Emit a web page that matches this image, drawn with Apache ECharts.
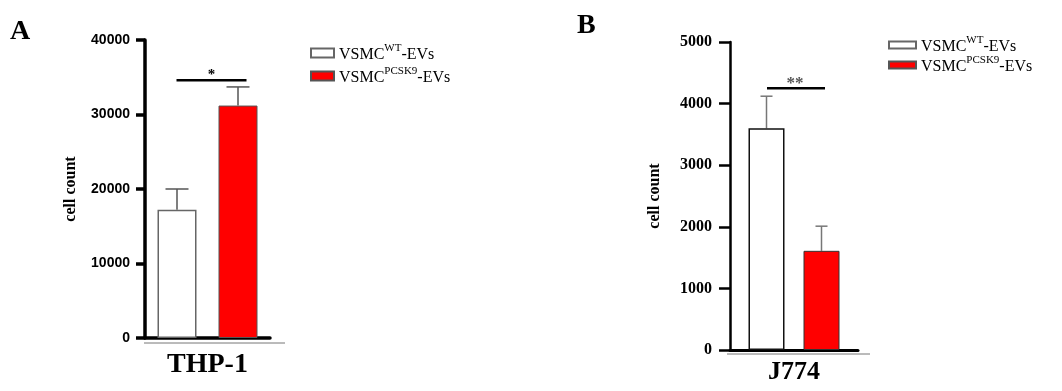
<!DOCTYPE html>
<html>
<head>
<meta charset="utf-8">
<script src="https://cdn.jsdelivr.net/npm/echarts@6/dist/echarts.min.js"></script>
<style>
html,body{margin:0;padding:0;background:#fff;}
#chart{width:1062px;height:391px;}
</style>
</head>
<body>
<div id="chart"></div>
<script>
// ---- data ----
const seriesNames = ['VSMC WT-EVs', 'VSMC PCSK9-EVs'];
const catA = ['THP-1'];
const catB = ['J774'];
const meanA = [17200, 31200];
const errA = [2800, 2500];
const meanB = [3600, 1610];
const errB = [520, 400];
const sigA = ['*', 34600];
const sigB = ['**', 4250];
const ticksA = { min: 0, max: 40000, interval: 10000 };
const ticksB = { min: 0, max: 5000, interval: 1000 };

// ---- styles ----
const serif = '"Liberation Serif", "Times New Roman", serif';
const sans = '"Liberation Sans", Arial, sans-serif';
const bwA = 39, gapA = 22, bwB = 36, gapB = 19;

const chart = echarts.init(document.getElementById('chart'), null, { renderer: 'canvas' });

function errRender(bw, gap, cap, color) {
  return function (params, api) {
    const k = api.value(3);
    const c = api.coord([api.value(0), api.value(1)]);
    const t = api.coord([api.value(0), api.value(1) + api.value(2)]);
    const x = c[0] + (k - 0.5) * (bw + gap);
    return {
      type: 'group',
      children: [
        { type: 'line', shape: { x1: x, y1: c[1], x2: x, y2: t[1] }, style: { stroke: color, lineWidth: 1.5 } },
        { type: 'line', shape: { x1: x - cap / 2, y1: t[1], x2: x + cap / 2, y2: t[1] }, style: { stroke: color, lineWidth: 1.5 } }
      ]
    };
  };
}
function sigRender(offL, offR, starOff, fs, dy, col) {
  return function (params, api) {
    const p = api.coord([api.value(0), api.value(1)]);
    return {
      type: 'group',
      children: [
        { type: 'line', shape: { x1: p[0] + offL, y1: p[1], x2: p[0] + offR, y2: p[1] }, style: { stroke: '#000', lineWidth: 2.5 } },
        { type: 'text', x: p[0] + starOff, y: p[1] - dy, style: { text: api.value(2), fill: col, font: 'bold ' + fs + 'px ' + serif, textAlign: 'center', textVerticalAlign: 'middle' } }
      ]
    };
  };
}

const legendRich = {
  n: { fontFamily: serif, fontSize: 16, color: '#000', lineHeight: 20, verticalAlign: 'bottom' },
  s: { fontFamily: serif, fontSize: 11, color: '#000', lineHeight: 20, verticalAlign: 'top', padding: [0, 0, 6, 0] }
};
function legendFmt(name) {
  const parts = name.split(' ');
  const sup = parts[1].split('-')[0];
  return '{n|' + parts[0] + '}{s|' + sup + '}{n|-EVs}';
}

function yAxis(gridIndex, ticks, font, fs, tickLen, margin, axisW, nameGap) {
  return {
    type: 'value', gridIndex: gridIndex, min: ticks.min, max: ticks.max, interval: ticks.interval,
    name: 'cell count', nameLocation: 'middle', nameGap: nameGap, nameRotate: 90,
    nameTextStyle: { fontFamily: serif, fontWeight: 'bold', fontSize: 16, color: '#000' },
    axisLine: { show: true, lineStyle: { color: '#000', width: axisW } },
    axisTick: { show: true, length: tickLen, lineStyle: { color: '#000', width: axisW } },
    axisLabel: { fontFamily: font, fontWeight: 'bold', fontSize: fs, color: '#000', margin: margin,
      formatter: v => String(v) },
    splitLine: { show: false }
  };
}
function xAxis(gridIndex, cats, margin, axisW, fs) {
  return {
    type: 'category', gridIndex: gridIndex, data: cats,
    axisLine: { show: true, lineStyle: { color: '#000', width: axisW } },
    axisTick: { show: false },
    axisLabel: { fontFamily: serif, fontWeight: 'bold', fontSize: fs, color: '#000', margin: margin, lineHeight: fs }
  };
}

const option = {
  animation: false,
  backgroundColor: '#fff',
  grid: [
    { left: 145, top: 40, width: 125, height: 298 },
    { left: 730, top: 42, width: 128, height: 308 }
  ],
  xAxis: [xAxis(0, catA, 13, 3.5, 28), xAxis(1, catB, 9, 3, 26)],
  yAxis: [
    yAxis(0, ticksA, sans, 14, 9, 15, 3.5, 66),
    yAxis(1, ticksB, serif, 16, 11, 18, 2.5, 67)
  ],
  legend: [
    {
      data: seriesNames, orient: 'vertical', left: 305, top: 38,
      itemWidth: 23, itemHeight: 9, itemGap: 3, formatter: legendFmt, icon: 'rect',
      textStyle: { rich: legendRich }, selectedMode: false
    },
    {
      data: seriesNames.map(n => n), orient: 'vertical', left: 883, top: 30,
      itemWidth: 27, itemHeight: 7, itemGap: 0, formatter: legendFmt, icon: 'rect',
      textStyle: { rich: legendRich }, selectedMode: false
    }
  ],
  graphic: [
    { type: 'line', shape: { x1: 144, y1: 343, x2: 285, y2: 343 }, style: { stroke: '#777', lineWidth: 1 } },
    { type: 'line', shape: { x1: 727, y1: 354, x2: 870, y2: 354 }, style: { stroke: '#777', lineWidth: 1 } },
    { type: 'text', left: 10, top: 18, style: { text: 'A', font: 'bold 28px ' + serif, fill: '#000' } },
    { type: 'text', left: 577, top: 12, style: { text: 'B', font: 'bold 28px ' + serif, fill: '#000' } }
  ],
  series: [
    { name: seriesNames[0], type: 'bar', xAxisIndex: 0, yAxisIndex: 0, data: [meanA[0]], barWidth: bwA, barGap: (gapA / bwA * 100) + '%',
      itemStyle: { color: '#fff', borderColor: '#666', borderWidth: 1.5 } },
    { name: seriesNames[1], type: 'bar', xAxisIndex: 0, yAxisIndex: 0, data: [meanA[1]], barWidth: bwA,
      itemStyle: { color: '#ff0000', borderColor: '#555', borderWidth: 1 } },
    { name: seriesNames[0], type: 'bar', xAxisIndex: 1, yAxisIndex: 1, data: [meanB[0]], barWidth: bwB, barGap: (gapB / bwB * 100) + '%',
      itemStyle: { color: '#fff', borderColor: '#111', borderWidth: 1.5 } },
    { name: seriesNames[1], type: 'bar', xAxisIndex: 1, yAxisIndex: 1, data: [meanB[1]], barWidth: bwB,
      itemStyle: { color: '#ff0000', borderColor: '#333', borderWidth: 1 } },
    { type: 'custom', xAxisIndex: 0, yAxisIndex: 0, z: 1,
      data: meanA.map((m, i) => [0, m, errA[i], i]), renderItem: errRender(bwA, gapA, 23, '#555') },
    { type: 'custom', xAxisIndex: 1, yAxisIndex: 1, z: 1,
      data: meanB.map((m, i) => [0, m, errB[i], i]), renderItem: errRender(bwB, gapB, 12, '#777') },
    { type: 'custom', xAxisIndex: 0, yAxisIndex: 0,
      data: [[0, sigA[1], sigA[0]]], renderItem: sigRender(-31, 39, 4, 15, 5, '#000') },
    { type: 'custom', xAxisIndex: 1, yAxisIndex: 1,
      data: [[0, sigB[1], sigB[0]]], renderItem: sigRender(-27, 31, 1, 17, 5, '#555') }
  ]
};
chart.setOption(option);
</script>
</body>
</html>
